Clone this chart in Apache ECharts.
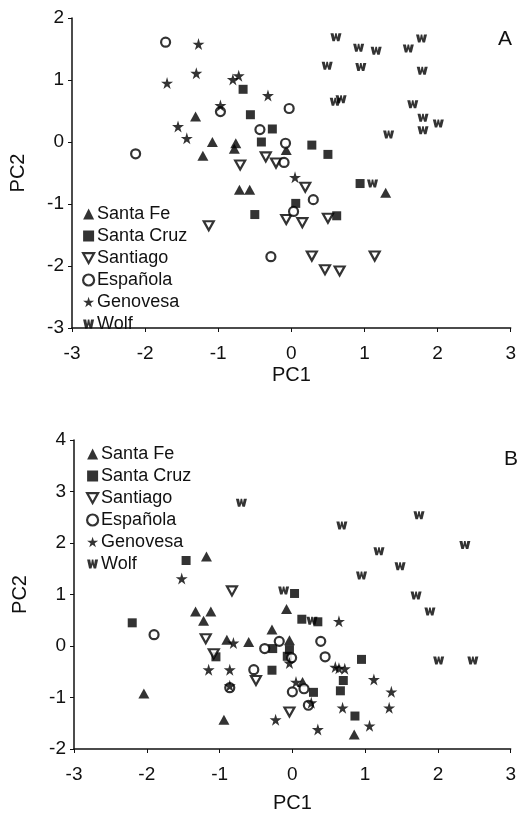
<!DOCTYPE html>
<html>
<head>
<meta charset="utf-8">
<script src="https://cdn.jsdelivr.net/npm/echarts@6/dist/echarts.min.js"></script>
<style>
  html, body { margin: 0; padding: 0; background: #fff; }
  #chart { width: 519px; height: 819px; }
</style>
</head>
<body>
<div id="chart"></div>
<script>
/** PCA scatter, two panels */
var islands = ['Santa Fe', 'Santa Cruz', 'Santiago', 'Española', 'Genovesa', 'Wolf'];
var panelLabels = ['A', 'B'];

// panel A
var aSantaFe = [[-1.31, 0.41], [-1.08, 0.0], [-0.76, -0.02], [-0.78, -0.11], [-1.21, -0.22], [-0.71, -0.77], [-0.57, -0.77], [-0.07, -0.13], [1.29, -0.82]];
var aSantaCruz = [[-0.66, 0.85], [-0.56, 0.44], [-0.26, 0.21], [-0.41, 0.0], [0.28, -0.05], [0.50, -0.20], [0.94, -0.67], [0.06, -0.99], [-0.50, -1.17], [0.62, -1.19]];
var aSantiago = [[-0.70, -0.37], [-0.35, -0.24], [-0.21, -0.34], [0.19, -0.73], [-0.07, -1.25], [0.15, -1.30], [0.50, -1.23], [-1.13, -1.35], [0.28, -1.84], [1.14, -1.84], [0.46, -2.06], [0.66, -2.08]];
var aEspanola = [[-1.72, 1.61], [-0.97, 0.49], [-0.03, 0.54], [-0.43, 0.20], [-2.13, -0.19], [-0.10, -0.33], [-0.08, -0.02], [0.30, -0.93], [0.03, -1.12], [-0.28, -1.85]];
var aGenovesa = [[-1.27, 1.58], [-1.30, 1.11], [-1.70, 0.95], [-0.80, 1.01], [-0.72, 1.07], [-0.32, 0.75], [-0.97, 0.59], [-1.55, 0.25], [-1.43, 0.06], [0.05, -0.57]];
var aWolf = [[0.61, 1.69], [0.92, 1.52], [1.16, 1.47], [1.60, 1.51], [1.78, 1.67], [0.49, 1.23], [0.95, 1.21], [1.79, 1.15], [0.60, 0.65], [0.68, 0.69], [1.66, 0.61], [1.80, 0.39], [1.80, 0.19], [2.01, 0.30], [1.33, 0.12], [1.11, -0.67]];

// panel B
var bSantaFe = [[-1.18, 1.74], [-0.08, 0.72], [-1.33, 0.67], [-1.12, 0.67], [-1.22, 0.49], [-0.90, 0.12], [-0.60, 0.08], [-0.28, 0.32], [-0.04, 0.11], [-2.04, -0.92], [-0.94, -1.43], [0.14, -0.70], [0.85, -1.72]];
var bSantaCruz = [[-1.46, 1.66], [0.03, 1.02], [0.13, 0.52], [0.35, 0.47], [-2.20, 0.45], [-0.27, -0.05], [-0.04, -0.07], [-0.07, -0.20], [-1.05, -0.21], [-0.28, -0.47], [0.29, -0.90], [0.95, -0.26], [0.70, -0.67], [0.66, -0.87], [0.86, -1.36]];
var bSantiago = [[-0.83, 1.07], [-1.19, 0.14], [-1.08, -0.15], [-0.50, -0.67], [-0.04, -1.28]];
var bEspanola = [[-1.90, 0.22], [-0.38, -0.05], [-0.18, 0.09], [-0.01, -0.23], [-0.53, -0.46], [-0.86, -0.81], [0.00, -0.89], [0.16, -0.83], [0.22, -1.15], [0.39, 0.09], [0.45, -0.21]];
var bGenovesa = [[-1.52, 1.31], [-0.81, 0.06], [-1.15, -0.46], [-0.86, -0.46], [-0.86, -0.77], [-0.23, -1.43], [-0.04, -0.33], [0.05, -0.70], [0.26, -1.10], [0.64, 0.48], [0.59, -0.41], [0.64, -0.43], [0.72, -0.44], [1.12, -0.65], [1.36, -0.89], [0.69, -1.20], [1.33, -1.20], [1.06, -1.55], [0.35, -1.62]];
var bWolf = [[-0.70, 2.78], [-0.12, 1.08], [0.27, 0.49], [1.74, 2.54], [0.68, 2.34], [2.37, 1.96], [1.19, 1.84], [1.48, 1.55], [0.95, 1.37], [1.70, 0.98], [1.89, 0.67], [2.01, -0.28], [2.48, -0.28]];

var panelData = [
  [aSantaFe, aSantaCruz, aSantiago, aEspanola, aGenovesa, aWolf],
  [bSantaFe, bSantaCruz, bSantiago, bEspanola, bGenovesa, bWolf]
];

var FONT = '"Liberation Sans", Arial, sans-serif';
var starPath = 'path://M50,0 L61,35 L98,35 L68,57 L79,91 L50,70 L21,91 L32,57 L2,35 L39,35 Z';
var downTri = 'path://M0,0 L10,0 L5,9 Z';
var wPath = 'path://M0,0 L2.8,0 L3.6,4.2 L4.3,0 L5.7,0 L6.4,4.2 L7.2,0 L10,0 L8.2,8 L6,8 L5,4.5 L4,8 L1.8,8 Z';

// marker look per island
var marks = [
  { symbol: 'triangle', size: [11, 10], style: { color: '#000' } },
  { symbol: 'rect', size: [9, 9], style: { color: '#000' } },
  { symbol: downTri, size: [10, 9], style: { color: '#fff', borderColor: '#000', borderWidth: 2.2 } },
  { symbol: 'circle', size: 9, style: { color: '#fff', borderColor: '#000', borderWidth: 2.2 } },
  { symbol: starPath, size: [12, 12], style: { color: '#000' } },
  { symbol: wPath, size: [11, 8], style: { color: '#000' } }
];

var series = [];
panelData.forEach(function (sets, p) {
  sets.forEach(function (d, i) {
    series.push({
      name: islands[i],
      type: 'scatter',
      xAxisIndex: p,
      yAxisIndex: p,
      symbol: marks[i].symbol,
      symbolSize: marks[i].size,
      itemStyle: marks[i].style,
      data: d
    });
  });
});

var legendData = islands.map(function (n, i) {
  return { name: n, icon: marks[i].symbol, itemStyle: marks[i].style };
});

function xAx(idx, gap) {
  return {
    gridIndex: idx, type: 'value', min: -3, max: 3, interval: 1,
    name: 'PC1', nameLocation: 'middle', nameGap: gap,
    nameTextStyle: { fontFamily: FONT, fontSize: 20, color: '#111' },
    axisLine: { onZero: false, lineStyle: { color: '#111', width: 1.5 } },
    axisTick: { length: 4, lineStyle: { color: '#111' } },
    axisLabel: { fontFamily: FONT, fontSize: 19, color: '#111', margin: 16 },
    splitLine: { show: false }
  };
}
function yAx(idx, min, max) {
  return {
    gridIndex: idx, type: 'value', min: min, max: max, interval: 1,
    name: 'PC2', nameLocation: 'middle', nameGap: 44,
    nameTextStyle: { fontFamily: FONT, fontSize: 20, color: '#111' },
    axisLine: { onZero: false, lineStyle: { color: '#111', width: 1.5 } },
    axisTick: { length: 4, lineStyle: { color: '#111' } },
    axisLabel: { fontFamily: FONT, fontSize: 19, color: '#111', margin: 8 },
    splitLine: { show: false }
  };
}

var chart = echarts.init(document.getElementById('chart'));
var option = {
  backgroundColor: '#fff',
  animation: false,
  title: [
    { text: panelLabels[0], left: 493, top: 24, textStyle: { fontFamily: FONT, fontSize: 21, fontWeight: 'normal', color: '#111' } },
    { text: panelLabels[1], left: 499, top: 444, textStyle: { fontFamily: FONT, fontSize: 21, fontWeight: 'normal', color: '#111' } }
  ],
  legend: [
    {
      orient: 'vertical', left: 77, top: 200, itemWidth: 11, itemHeight: 11, itemGap: 4,
      selectedMode: false, data: legendData,
      textStyle: { fontFamily: FONT, fontSize: 18, color: '#111', padding: [0, 0, 0, -2] }
    },
    {
      orient: 'vertical', left: 81, top: 440, itemWidth: 11, itemHeight: 11, itemGap: 4,
      selectedMode: false, data: legendData,
      textStyle: { fontFamily: FONT, fontSize: 18, color: '#111', padding: [0, 0, 0, -2] }
    }
  ],
  grid: [
    { left: 72, top: 18, width: 440, height: 310 },
    { left: 74, top: 440, width: 442, height: 309 }
  ],
  xAxis: [xAx(0, 37), xAx(1, 44)],
  yAxis: [yAx(0, -3, 2), yAx(1, -2, 4)],
  series: series
};

chart.setOption(option);
</script>
</body>
</html>
